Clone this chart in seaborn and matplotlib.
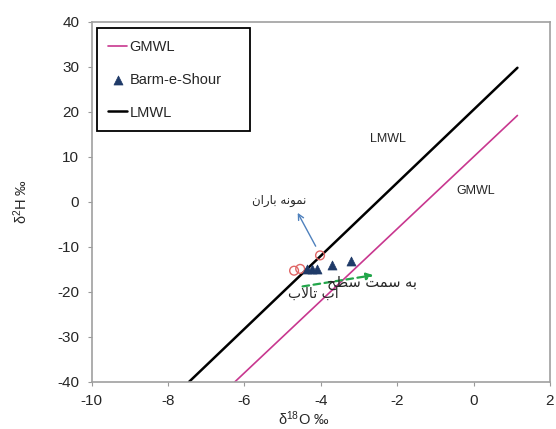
import matplotlib
matplotlib.use('Agg')
import matplotlib.pyplot as plt
import seaborn as sns

# خطوط جوی (دو نقطه انتهایی هر خط)
gmwl_x = [-6.25, 1.15]
gmwl_y = [-40.0, 19.2]
lmwl_x = [-7.45, 1.15]
lmwl_y = [-40.0, 29.8]

# نمونه‌های برم شور
barm_x = [-4.35, -4.22, -4.1, -3.72, -3.22]
barm_y = [-14.9, -15.0, -14.9, -14.1, -13.1]

# نمونه باران
rain_x = [-4.7, -4.54, -4.02]
rain_y = [-15.3, -14.9, -11.9]

# متن فارسی به ترتیب نمایشی (حروف شکل‌یافته)
rain_label = '\uFEE5\uFE8D\uFEAD\uFE8E\uFE91 \uFEEA\uFEE7\uFEEE\uFEE4\uFEE7'
lake_label_a = '\uFEA2\uFEC4\uFEB3 \uFE96\uFEE4\uFEB3 \uFEEA\uFE91'   # به سمت سطح
lake_label_b = '\uFE8F\uFEFB\uFE8E\uFE97 \uFE8F\uFE81'               # آب تالاب

sns.set_style('white')
plt.rcParams['font.family'] = ['Liberation Sans', 'DejaVu Sans']
plt.rcParams['mathtext.default'] = 'regular'
plt.rcParams['axes.unicode_minus'] = False

fig = plt.figure(figsize=(5.56, 4.29), dpi=100)
ax = fig.add_axes([0.165, 0.110, 0.824, 0.839])

sns.lineplot(x=gmwl_x, y=gmwl_y, ax=ax, color='#c8378f', lw=1.2, label='GMWL')
sns.scatterplot(x=barm_x, y=barm_y, ax=ax, marker='^', color='#1f3a68', s=42,
                edgecolor='#1f3a68', label='Barm-e-Shour', zorder=4)
sns.lineplot(x=lmwl_x, y=lmwl_y, ax=ax, color='black', lw=1.8, label='LMWL')
sns.scatterplot(x=rain_x, y=rain_y, ax=ax, marker='o', s=40, facecolor='none',
                edgecolor='#e06666', linewidth=1.0, zorder=3)

ax.set_xlim(-10, 2)
ax.set_ylim(-40, 40)
ax.set_xticks(range(-10, 3, 2))
ax.set_yticks(range(-40, 41, 10))
ax.tick_params(axis='both', labelsize=11, length=3, width=0.8, color='#999999',
               direction='out', left=True, bottom=True, pad=6)
for s in ax.spines.values():
    s.set_color('#a0a0a0')
    s.set_linewidth(1.2)

ax.set_xlabel('δ$^{18}$O ‰', fontsize=10.5)
ax.xaxis.set_label_coords(0.463, -0.078)
ax.set_ylabel('δ$^{2}$H ‰', fontsize=10.5)
ax.yaxis.set_label_coords(-0.135, 0.5)

ax.text(-2.25, 14.0, 'LMWL', fontsize=9, ha='center', va='center')
ax.text(0.05, 2.5, 'GMWL', fontsize=9, ha='center', va='center')

ax.annotate('', xy=(-4.64, -1.9), xytext=(-4.1, -10.4),
            arrowprops=dict(arrowstyle='->', color='#4f81bd', lw=1.0))
ax.text(-5.1, 0.4, rain_label, family=['DejaVu Sans'], fontsize=8.5,
        ha='center', va='center')

ax.annotate('', xy=(-2.55, -16.2), xytext=(-4.55, -18.9),
            arrowprops=dict(arrowstyle='-|>', color='#22a64a', lw=1.6,
                            linestyle=(0, (3, 2)), mutation_scale=10))
ax.text(-2.66, -18.0, lake_label_a, family=['DejaVu Sans'], fontsize=10.5,
        ha='center', va='center')
ax.text(-4.2, -20.6, lake_label_b, family=['DejaVu Sans'], fontsize=10,
        ha='center', va='center')

handles, labels = ax.get_legend_handles_labels()
leg = ax.legend(handles, labels, loc='upper left',
                bbox_to_anchor=(0.011, 0.706, 0.334, 0.277), mode='expand',
                borderaxespad=0, frameon=True, fancybox=False, edgecolor='black',
                fontsize=10.5, handlelength=1.3, handletextpad=0.15,
                labelspacing=1.3, borderpad=0.8)
leg.get_frame().set_linewidth(1.3)
leg.get_frame().set_alpha(1)

fig.savefig('out.png', dpi=100)
